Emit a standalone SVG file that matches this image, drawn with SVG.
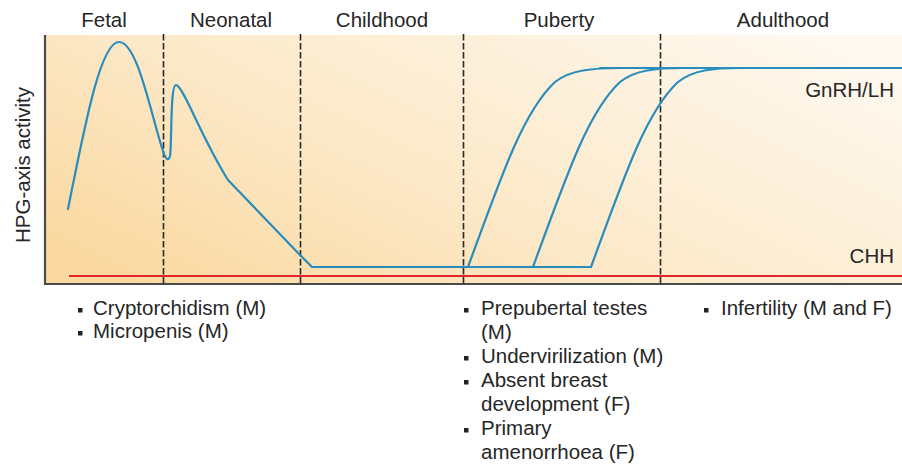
<svg xmlns="http://www.w3.org/2000/svg" width="902" height="466" viewBox="0 0 902 466">
<defs>
<linearGradient id="bg" x1="0" y1="0.8" x2="1" y2="0.2">
<stop offset="0" stop-color="#fad9a1"/>
<stop offset="0.4" stop-color="#fce8c6"/>
<stop offset="1" stop-color="#fef8ee"/>
</linearGradient>
<style>
text{font-family:"Liberation Sans",Arial,sans-serif;font-size:20.5px;fill:#262626}
.hd{text-anchor:middle}
.rt{text-anchor:end}
.dash{stroke:#2a2a2a;stroke-width:1.6;stroke-dasharray:6.5 2.5;fill:none}
.curve{stroke:#2a8cbc;stroke-width:2.2;fill:none;stroke-linejoin:round;stroke-linecap:round}
.bul{fill:#222}
</style>
</defs>
<rect x="0" y="0" width="902" height="466" fill="#ffffff"/>
<g id="plot">
<rect x="45" y="35" width="857" height="249" fill="url(#bg)"/>
<line x1="69" y1="276" x2="902" y2="276" stroke="#e0262b" stroke-width="1.8"/>
<path d="M45,35 V284 H902" fill="none" stroke="#4a4a4a" stroke-width="2.2"/>
</g>
<g id="dividers">
<line class="dash" x1="163.5" y1="34" x2="163.5" y2="284"/>
<line class="dash" x1="300.5" y1="34" x2="300.5" y2="284"/>
<line class="dash" x1="463.5" y1="34" x2="463.5" y2="284"/>
<line class="dash" x1="660.5" y1="34" x2="660.5" y2="284"/>
</g>
<g id="connectors">
<path class="curve" d="M68,209 C84,130 100,42 119,42 C137,42 150,110 162,148 C165,158 168,163 170,156 C172,145 170,85 176,85 C183,85 200,135 228,180 L300,255 L312,267 L591,267"/>
<path class="curve" d="M468,267 C505,165 525,110 555,82 C570,70 592,68 622,68"/>
<path class="curve" d="M533,267 C570,165 590,110 620,82 C635,70 655,68 685,68"/>
<path class="curve" d="M591,267 C628,165 648,110 678,82 C693,70 713,68 741,68"/>
<path class="curve" d="M600,68 H902"/>
</g>
<g id="headers">
<text class="hd" x="104" y="27">Fetal</text>
<text class="hd" x="231" y="27">Neonatal</text>
<text class="hd" x="382" y="27">Childhood</text>
<text class="hd" x="559" y="27">Puberty</text>
<text class="hd" x="783" y="27">Adulthood</text>
</g>
<g id="axis-label">
<text class="hd" x="30" y="165" transform="rotate(-90 30 165)">HPG-axis activity</text>
</g>
<g id="curve-labels">
<text class="rt" x="894" y="97">GnRH/LH</text>
<text class="rt" x="894" y="263">CHH</text>
</g>
<g id="list-early">
<rect class="bul" x="78" y="308" width="4.5" height="4.5"/>
<text x="93" y="315">Cryptorchidism (M)</text>
<rect class="bul" x="78" y="331" width="4.5" height="4.5"/>
<text x="93" y="338">Micropenis (M)</text>
</g>
<g id="list-puberty">
<rect class="bul" x="464" y="308" width="4.5" height="4.5"/>
<text x="481" y="315">Prepubertal testes</text>
<text x="481" y="339">(M)</text>
<rect class="bul" x="464" y="356" width="4.5" height="4.5"/>
<text x="481" y="363">Undervirilization (M)</text>
<rect class="bul" x="464" y="380" width="4.5" height="4.5"/>
<text x="481" y="387">Absent breast</text>
<text x="481" y="411">development (F)</text>
<rect class="bul" x="464" y="428" width="4.5" height="4.5"/>
<text x="481" y="435">Primary</text>
<text x="481" y="459">amenorrhoea (F)</text>
</g>
<g id="list-adult">
<rect class="bul" x="704" y="308" width="4.5" height="4.5"/>
<text x="721" y="315">Infertility (M and F)</text>
</g>
</svg>
